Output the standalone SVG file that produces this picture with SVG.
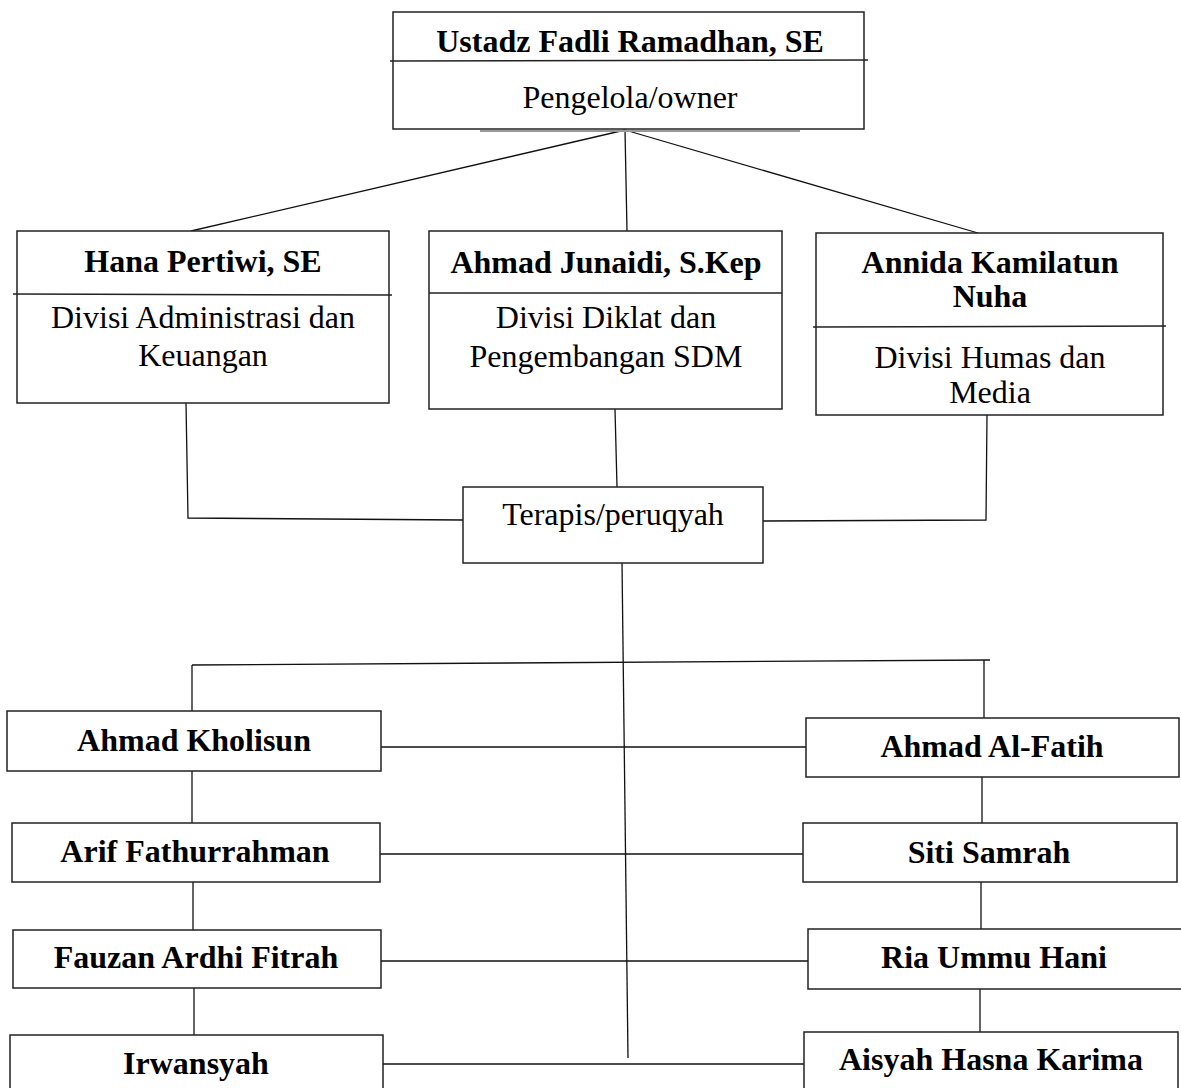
<svg xmlns="http://www.w3.org/2000/svg" width="1181" height="1088" viewBox="0 0 1181 1088">
<style>
.box{fill:#fff;stroke:#222;stroke-width:1.5}
.div{stroke:#222;stroke-width:1.5}
.ln{stroke:#111;stroke-width:1.3;fill:none}
text{font-family:"Liberation Serif","Times New Roman",serif;font-size:32px;fill:#000;text-anchor:middle}
.b{font-weight:bold}
</style>
<rect width="1181" height="1088" fill="#fff"/>
<g id="connectors">
<line class="ln" x1="625" y1="130" x2="191" y2="231"/>
<line class="ln" x1="625" y1="130" x2="627" y2="231"/>
<line class="ln" x1="625" y1="130" x2="978" y2="233"/>
<polyline class="ln" points="186,403 188,518 463,520"/>
<line class="ln" x1="615" y1="409" x2="617" y2="487"/>
<polyline class="ln" points="987,415 986,520 763,521"/>
<line class="ln" x1="622" y1="563" x2="628" y2="1058"/>
<line class="ln" x1="192" y1="665" x2="990" y2="660"/>
<line class="ln" x1="192" y1="665" x2="192" y2="711"/>
<line class="ln" x1="984" y1="660" x2="984" y2="718"/>
<line class="ln" x1="192" y1="771" x2="192" y2="823"/>
<line class="ln" x1="193" y1="882" x2="193" y2="930"/>
<line class="ln" x1="194" y1="988" x2="194" y2="1035"/>
<line class="ln" x1="982" y1="777" x2="982" y2="823"/>
<line class="ln" x1="981" y1="882" x2="981" y2="929"/>
<line class="ln" x1="980" y1="989" x2="980" y2="1032"/>
<line class="ln" x1="381" y1="747" x2="806" y2="747"/>
<line class="ln" x1="378" y1="854" x2="803" y2="854"/>
<line class="ln" x1="381" y1="961" x2="808" y2="961"/>
<line class="ln" x1="383" y1="1064" x2="804" y2="1064"/>
</g>
<g id="owner">
<line x1="480" y1="131" x2="800" y2="131" stroke="#999" stroke-width="2"/>
<rect class="box" x="393" y="12" width="471" height="117"/>
<line class="div" x1="390" y1="61" x2="868" y2="60"/>
<text class="b" x="630" y="52">Ustadz Fadli Ramadhan, SE</text>
<text x="630" y="108">Pengelola/owner</text>
</g>
<g id="hana">
<rect class="box" x="17" y="231" width="372" height="172"/>
<line class="div" x1="13" y1="294" x2="392" y2="295"/>
<text class="b" x="203" y="272">Hana Pertiwi, SE</text>
<text x="203" y="328">Divisi Administrasi dan</text>
<text x="203" y="366">Keuangan</text>
</g>
<g id="junaidi">
<rect class="box" x="429" y="231" width="353" height="178"/>
<line class="div" x1="429" y1="293" x2="782" y2="293"/>
<text class="b" x="606" y="273">Ahmad Junaidi, S.Kep</text>
<text x="606" y="328">Divisi Diklat dan</text>
<text x="606" y="367">Pengembangan SDM</text>
</g>
<g id="annida">
<rect class="box" x="816" y="233" width="347" height="182"/>
<line class="div" x1="813" y1="327" x2="1166" y2="326"/>
<text class="b" x="990" y="273">Annida Kamilatun</text>
<text class="b" x="990" y="307">Nuha</text>
<text x="990" y="368">Divisi Humas dan</text>
<text x="990" y="403">Media</text>
</g>
<g id="terapis">
<rect class="box" x="463" y="487" width="300" height="76"/>
<text x="613" y="525">Terapis/peruqyah</text>
</g>
<g id="kholisun">
<rect class="box" x="7" y="711" width="374" height="60"/>
<text class="b" x="194" y="751">Ahmad Kholisun</text>
</g>
<g id="arif">
<rect class="box" x="12" y="823" width="368" height="59"/>
<text class="b" x="195" y="862">Arif Fathurrahman</text>
</g>
<g id="fauzan">
<rect class="box" x="13" y="930" width="368" height="58"/>
<text class="b" x="196" y="968">Fauzan Ardhi Fitrah</text>
</g>
<g id="irwansyah">
<rect class="box" x="10" y="1035" width="373" height="70"/>
<text class="b" x="196" y="1074">Irwansyah</text>
</g>
<g id="alfatih">
<rect class="box" x="806" y="718" width="373" height="59"/>
<text class="b" x="992" y="757">Ahmad Al-Fatih</text>
</g>
<g id="siti">
<rect class="box" x="803" y="823" width="374" height="59"/>
<text class="b" x="989" y="863">Siti Samrah</text>
</g>
<g id="ria">
<rect class="box" x="808" y="929" width="380" height="60"/>
<text class="b" x="994" y="968">Ria Ummu Hani</text>
</g>
<g id="aisyah">
<rect class="box" x="804" y="1032" width="374" height="70"/>
<text class="b" x="991" y="1070">Aisyah Hasna Karima</text>
</g>
</svg>
